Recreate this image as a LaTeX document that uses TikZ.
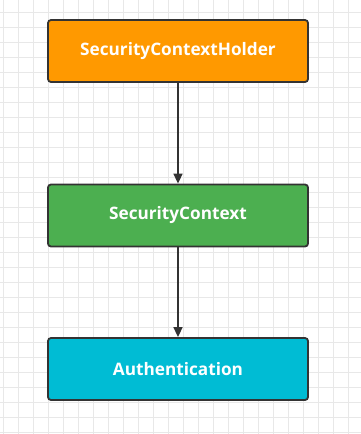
\documentclass[tikz,border=0pt]{standalone}
\usepackage{fontspec}
\setmainfont{Open Sans}
\usetikzlibrary{arrows.meta}
\definecolor{holderorange}{HTML}{FF9900}
\definecolor{contextgreen}{HTML}{4CAF50}
\definecolor{authcyan}{HTML}{00BCD4}
\definecolor{edgegray}{HTML}{333333}
\definecolor{gridgray}{HTML}{E8E8E8}
\tikzset{
  classbox/.style={draw=edgegray,line width=1.8pt,rounded corners=3pt,minimum width=260pt,minimum height=62pt,text=white,font=\bfseries\fontsize{17.2}{19}\selectfont},
  flow/.style={-{Triangle[length=10pt,width=9pt]},line width=1.6pt,edgegray}
}
\begin{document}
\begin{tikzpicture}[x=1pt,y=-1pt]
  \useasboundingbox (0,0) rectangle (361,434);
  \fill[white] (0,0) rectangle (361,434);
  % background grid
  \foreach \x in {3,18,...,361} \draw[gridgray,line width=0.8pt] (\x,0) -- (\x,434);
  \foreach \y in {12,27,...,434} \draw[gridgray,line width=0.8pt] (0,\y) -- (361,\y);
  \node[classbox,fill=holderorange] (holder) at (178,51) {SecurityContextHolder};
  \node[classbox,fill=contextgreen] (context) at (178,215.5) {SecurityContext};
  \node[classbox,fill=authcyan] (auth) at (178,369) {Authentication};
  \draw[flow] (holder) -- (context);
  \draw[flow] (context) -- (auth);
\end{tikzpicture}
\end{document}
